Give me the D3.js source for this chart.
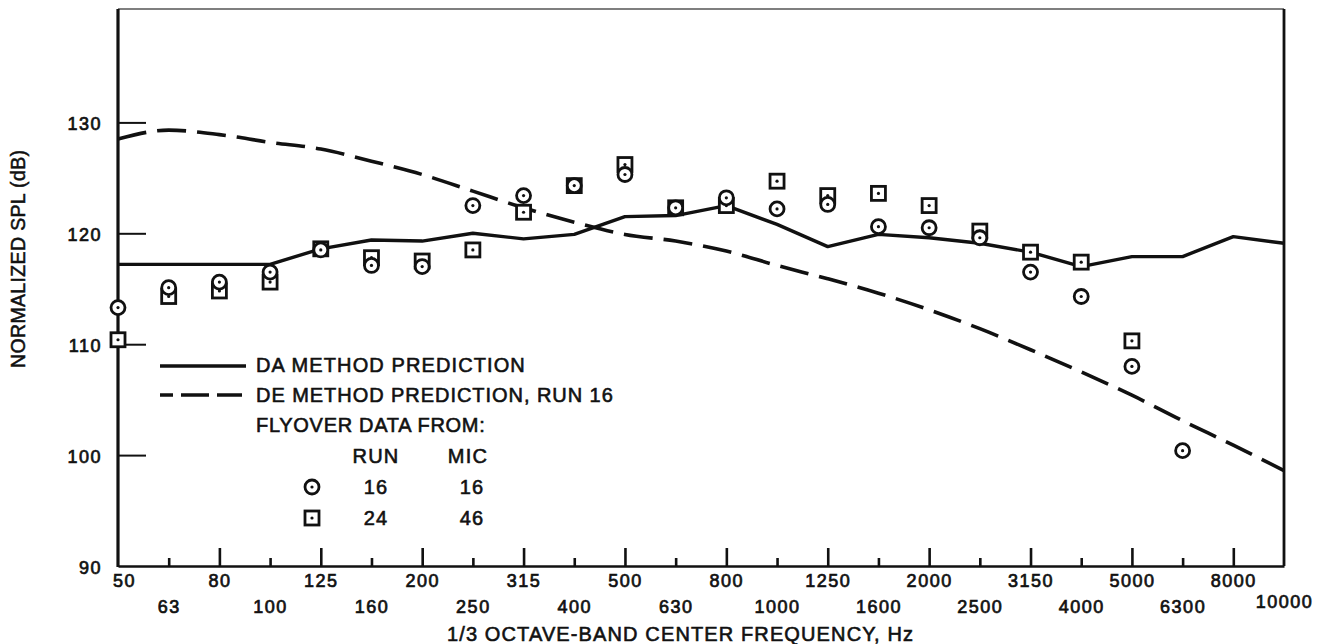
<!DOCTYPE html>
<html>
<head>
<meta charset="utf-8">
<script src="https://cdn.jsdelivr.net/npm/d3@7"></script>
<style>
  body { margin: 0; background: #fff; }
  svg { display: block; }
  text { font-family: "Liberation Sans", Arial, sans-serif; fill: #111; }
</style>
</head>
<body>
<div id="vis"></div>
<script>
// 1/3 octave band centre frequencies (Hz)
const freqs = ["50", "63", "80", "100", "125", "160", "200", "250", "315", "400", "500", "630",
               "800", "1000", "1250", "1600", "2000", "2500", "3150", "4000", "5000", "6300", "8000", "10000"];

// DA method prediction (solid)
const daPred = [117.2, 117.2, 117.2, 117.2, 118.6, 119.4, 119.3, 120.0, 119.5, 119.9, 121.5, 121.6,
                122.5, 120.8, 118.8, 119.9, 119.6, 119.1, 118.3, 117.0, 117.9, 117.9, 119.7, 119.1];

// DE method prediction, run 16 (dashed)
const dePred = [128.5, 129.3, 128.9, 128.2, 127.6, 126.5, 125.3, 123.8, 122.3, 121.0, 119.9, 119.3,
                118.4, 117.1, 115.9, 114.6, 113.1, 111.4, 109.5, 107.5, 105.4, 103.1, 100.9, 98.6];

// flyover data, run 16 mic 16 (circles)
const run16 = [113.3, 115.1, 115.6, 116.5, 118.5, 117.1, 117.0, 122.5, 123.4, 124.3, 125.3, 122.3,
               123.2, 122.2, 122.6, 120.6, 120.5, 119.6, 116.5, 114.3, 108.0, 100.4, null, null];

// flyover data, run 24 mic 46 (squares)
const run24 = [110.4, 114.3, 114.8, 115.6, 118.6, 117.8, 117.5, 118.5, 121.9, 124.3, 126.2, 122.3,
               122.5, 124.7, 123.4, 123.6, 122.5, 120.2, 118.3, 117.4, 110.3, null, null, null];

const yTicks = [90, 100, 110, 120, 130];

const WIDTH = 1325, HEIGHT = 644;
const LEFT = 118, RIGHT = 1284, TOP = 9, BOTTOM = 566;
const INK = "#111";

const svg = d3.select("#vis").append("svg")
    .attr("width", WIDTH)
    .attr("height", HEIGHT);

const x = d3.scalePoint().domain(freqs).range([LEFT, RIGHT]);
const y = d3.scaleLinear().domain([90, 140]).range([BOTTOM, 11.5]);

// frame: top and right edges
svg.append("line")
    .attr("x1", LEFT).attr("x2", RIGHT)
    .attr("y1", TOP).attr("y2", TOP)
    .attr("stroke", "#555").attr("stroke-width", 1.6);
svg.append("line")
    .attr("x1", RIGHT).attr("x2", RIGHT)
    .attr("y1", TOP).attr("y2", BOTTOM)
    .attr("stroke", INK).attr("stroke-width", 2.8);

// x axis, ticks pointing up, labels on two rows
const xAxis = svg.append("g")
    .attr("transform", "translate(0," + BOTTOM + ")")
    .call(d3.axisBottom(x).tickSizeOuter(0).tickSize(0));
xAxis.select(".domain").attr("stroke", INK).attr("stroke-width", 2.4);
xAxis.selectAll(".tick line")
    .attr("stroke", INK).attr("stroke-width", 2.6)
    .attr("y2", (d, i) => (i === 0 || i === freqs.length - 1) ? 0 : (i % 2 === 0 ? -18 : -8));
xAxis.selectAll(".tick text")
    .attr("y", (d, i) => i === freqs.length - 1 ? 42 : (i % 2 === 0 ? 21 : 47))
    .attr("dy", 0)
    .attr("dx", (d, i) => i === 0 ? 6 : 0)
    .attr("font-size", 18)
    .attr("letter-spacing", 1.5)
    .attr("fill", INK)
    .attr("stroke", INK).attr("stroke-width", 0.7)
    .attr("font-family", null);

// y axis, ticks pointing right
const yAxis = svg.append("g")
    .attr("transform", "translate(" + LEFT + ",0)")
    .call(d3.axisLeft(y).tickValues(yTicks).tickSize(-28).tickSizeOuter(0).tickPadding(16));
yAxis.select(".domain").attr("d", "M0," + TOP + "V" + (BOTTOM + 1))
    .attr("stroke", INK).attr("stroke-width", 3.2);
yAxis.selectAll(".tick line").attr("stroke", INK).attr("stroke-width", 2)
    .filter(d => d === 90).remove();
yAxis.selectAll(".tick text")
    .attr("font-size", 18)
    .attr("letter-spacing", 1.5)
    .attr("dy", 7)
    .attr("fill", INK)
    .attr("stroke", INK).attr("stroke-width", 0.7)
    .attr("font-family", null);

// axis titles
svg.append("text")
    .attr("x", 680).attr("y", 641)
    .attr("text-anchor", "middle")
    .attr("font-size", 20)
    .attr("textLength", 466)
    .attr("stroke", INK).attr("stroke-width", 0.6)
    .text("1/3 OCTAVE-BAND CENTER FREQUENCY, Hz");

svg.append("text")
    .attr("transform", "translate(25,259) rotate(-90)")
    .attr("text-anchor", "middle")
    .attr("font-size", 19.5)
    .attr("textLength", 218)
    .attr("stroke", INK).attr("stroke-width", 0.5)
    .text("NORMALIZED SPL (dB)");

// prediction curves
const daLine = d3.line()
    .x((d, i) => x(freqs[i]))
    .y(d => y(d));
const deLine = d3.line()
    .x((d, i) => x(freqs[i]))
    .y(d => y(d))
    .curve(d3.curveMonotoneX);

svg.append("path")
    .datum(daPred)
    .attr("d", daLine)
    .attr("fill", "none")
    .attr("stroke", INK)
    .attr("stroke-width", 3.4)
    .attr("stroke-linejoin", "round");

svg.append("path")
    .datum(dePred)
    .attr("d", deLine)
    .attr("fill", "none")
    .attr("stroke", INK)
    .attr("stroke-width", 3.6)
    .attr("stroke-dasharray", "29,11");

// markers
function drawCircle(g, cx, cy) {
  g.append("circle").attr("cx", cx).attr("cy", cy).attr("r", 7)
      .attr("fill", "#fff").attr("stroke", INK).attr("stroke-width", 2.8);
  g.append("circle").attr("cx", cx).attr("cy", cy).attr("r", 1.6).attr("fill", INK);
}
function drawSquare(g, cx, cy) {
  g.append("rect").attr("x", cx - 7).attr("y", cy - 7).attr("width", 14).attr("height", 14)
      .attr("fill", "#fff").attr("stroke", INK).attr("stroke-width", 2.8);
  g.append("circle").attr("cx", cx).attr("cy", cy).attr("r", 1.6).attr("fill", INK);
}

const marks = svg.append("g");
run24.forEach((v, i) => { if (v !== null) drawSquare(marks, x(freqs[i]), y(v)); });
run16.forEach((v, i) => { if (v !== null) drawCircle(marks, x(freqs[i]), y(v)); });

// legend
const legend = svg.append("g");
const legendText = (tx, ty, str, len) => {
  const t = legend.append("text")
      .attr("x", tx).attr("y", ty)
      .attr("font-size", 20)
      .attr("letter-spacing", 1.2)
      .attr("fill", INK)
      .attr("stroke", INK).attr("stroke-width", 0.6)
      .text(str);
  if (len) t.attr("textLength", len);
  return t;
};

legend.append("line")
    .attr("x1", 160).attr("x2", 246).attr("y1", 366).attr("y2", 366)
    .attr("stroke", INK).attr("stroke-width", 3.4);
legend.append("line")
    .attr("x1", 160).attr("x2", 242).attr("y1", 395).attr("y2", 395)
    .attr("stroke", INK).attr("stroke-width", 3.6)
    .attr("stroke-dasharray", "28,8").attr("stroke-dashoffset", 15);

legendText(256, 372, "DA METHOD PREDICTION", 270);
legendText(256, 402, "DE METHOD PREDICTION, RUN 16", 358);
legendText(256, 432, "FLYOVER DATA FROM:", 230);
legendText(376, 463, "RUN").attr("text-anchor", "middle");
legendText(468, 463, "MIC").attr("text-anchor", "middle");

drawCircle(legend, 312, 487);
drawSquare(legend, 312, 518);
legendText(376, 494, "16").attr("text-anchor", "middle");
legendText(472, 494, "16").attr("text-anchor", "middle");
legendText(376, 525, "24").attr("text-anchor", "middle");
legendText(472, 525, "46").attr("text-anchor", "middle");
</script>
</body>
</html>
